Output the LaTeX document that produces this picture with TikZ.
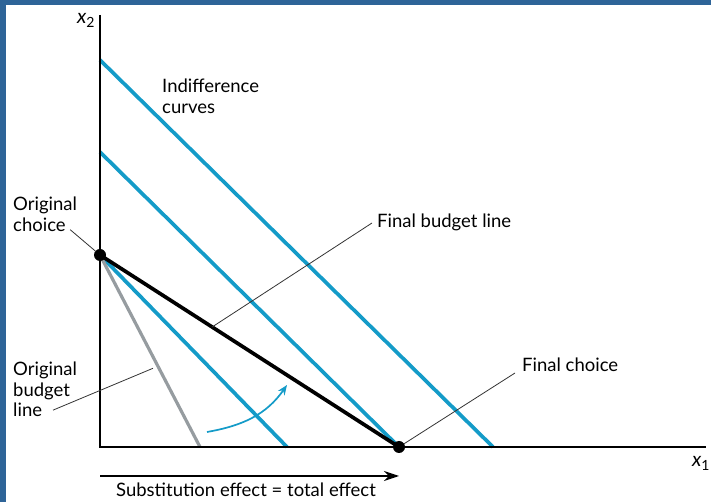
\documentclass[tikz,border=0pt]{standalone}
\usepackage{fontspec}
\setmainfont{Lato}
\usetikzlibrary{arrows.meta,calc}
\definecolor{icblue}{RGB}{20,155,200}
\definecolor{frameblue}{RGB}{46,100,152}
\definecolor{budgray}{RGB}{150,156,160}
\tikzset{
  axis/.style={line width=2.6pt},
  icurve/.style={icblue,line width=3.7pt},
  leader/.style={line width=0.8pt,black!80},
  lbl/.style={inner sep=0pt,font=\fontsize{18.5}{20.5}\selectfont,align=left},
  choice/.style={circle,fill=black,inner sep=0pt,minimum size=12pt}
}
\begin{document}
\begin{tikzpicture}[x=1pt,y=1pt]
      \useasboundingbox (0,0) rectangle (711,502);
      \fill[frameblue] (0,0) rectangle (6,502);
      \fill[frameblue] (0,497) rectangle (711,502);
      \coordinate (O) at (100,55);
      \coordinate (A) at (100,247);
      \coordinate (B) at (399,55);
      % indifference curves
      \draw[icurve] (100,442)--(493,55);
      \draw[icurve] (100,350)--(B);
      \draw[icurve] (A)--(287,55);
      % budget lines
      \draw[budgray,line width=3.2pt] (A)--(200,55);
      \draw[line width=3.7pt] (A)--(B);
      \draw[axis] (100,487)--(O)--(706,55);
      \node[choice] (orig) at (A) {};
      \node[choice] (fin) at (B) {};
      \path (77,478) node[lbl,anchor=base west,font=\fontsize{20}{22}\selectfont] (xtwo) {\itshape x\textsubscript{\upshape 2}};
      \path (692,35) node[lbl,anchor=base west,font=\fontsize{20}{22}\selectfont] (xone) {\itshape x\textsubscript{\upshape 1}};
      \path (162,423) node[lbl,anchor=north west] (iclbl) {Indifference\\curves};
      \path (13,305) node[lbl,anchor=north west] (origlbl) {Original\\choice};
      \path (13,140) node[lbl,anchor=north west] (oblbl) {Original\\budget\\line};
      \path (377,274) node[lbl,anchor=base west] (fblbl) {Final budget line};
      \path (522,130) node[lbl,anchor=base west] (fclbl) {Final choice};
      \path (246,5) node[lbl,anchor=base] (efflbl) {Substitution effect = total effect};
      % leaders
      \coordinate (fbpt) at ($(A)!0.375!(B)$);
      \coordinate (obpt) at ($(A)!0.59!(200,55)+(-6,0)$);
      \draw[leader] ([shift={(-7,2)}]origlbl.south east)--(orig);
      \draw[leader] ([shift={(-5,5)}]fblbl.base west)--(fbpt);
      \draw[leader] ([shift={(40,7)}]oblbl.south west)--(obpt);
      \draw[leader] ([shift={(-7,-1)}]fclbl.base west)--(fin);
      % effect arrows
      \coordinate (swS) at (207,70);
      \coordinate (swE) at (287,117);
      \draw[icblue,line width=1.7pt,-{Stealth[length=10pt,width=8pt]}] (swS) to[out=10,in=235] (swE);
      \coordinate (effS) at (100,26);
      \coordinate (effE) at (399,26);
      \draw[line width=1.5pt,-{Stealth[length=15pt,width=10pt]}] (effS)--(effE);
\end{tikzpicture}
\end{document}
